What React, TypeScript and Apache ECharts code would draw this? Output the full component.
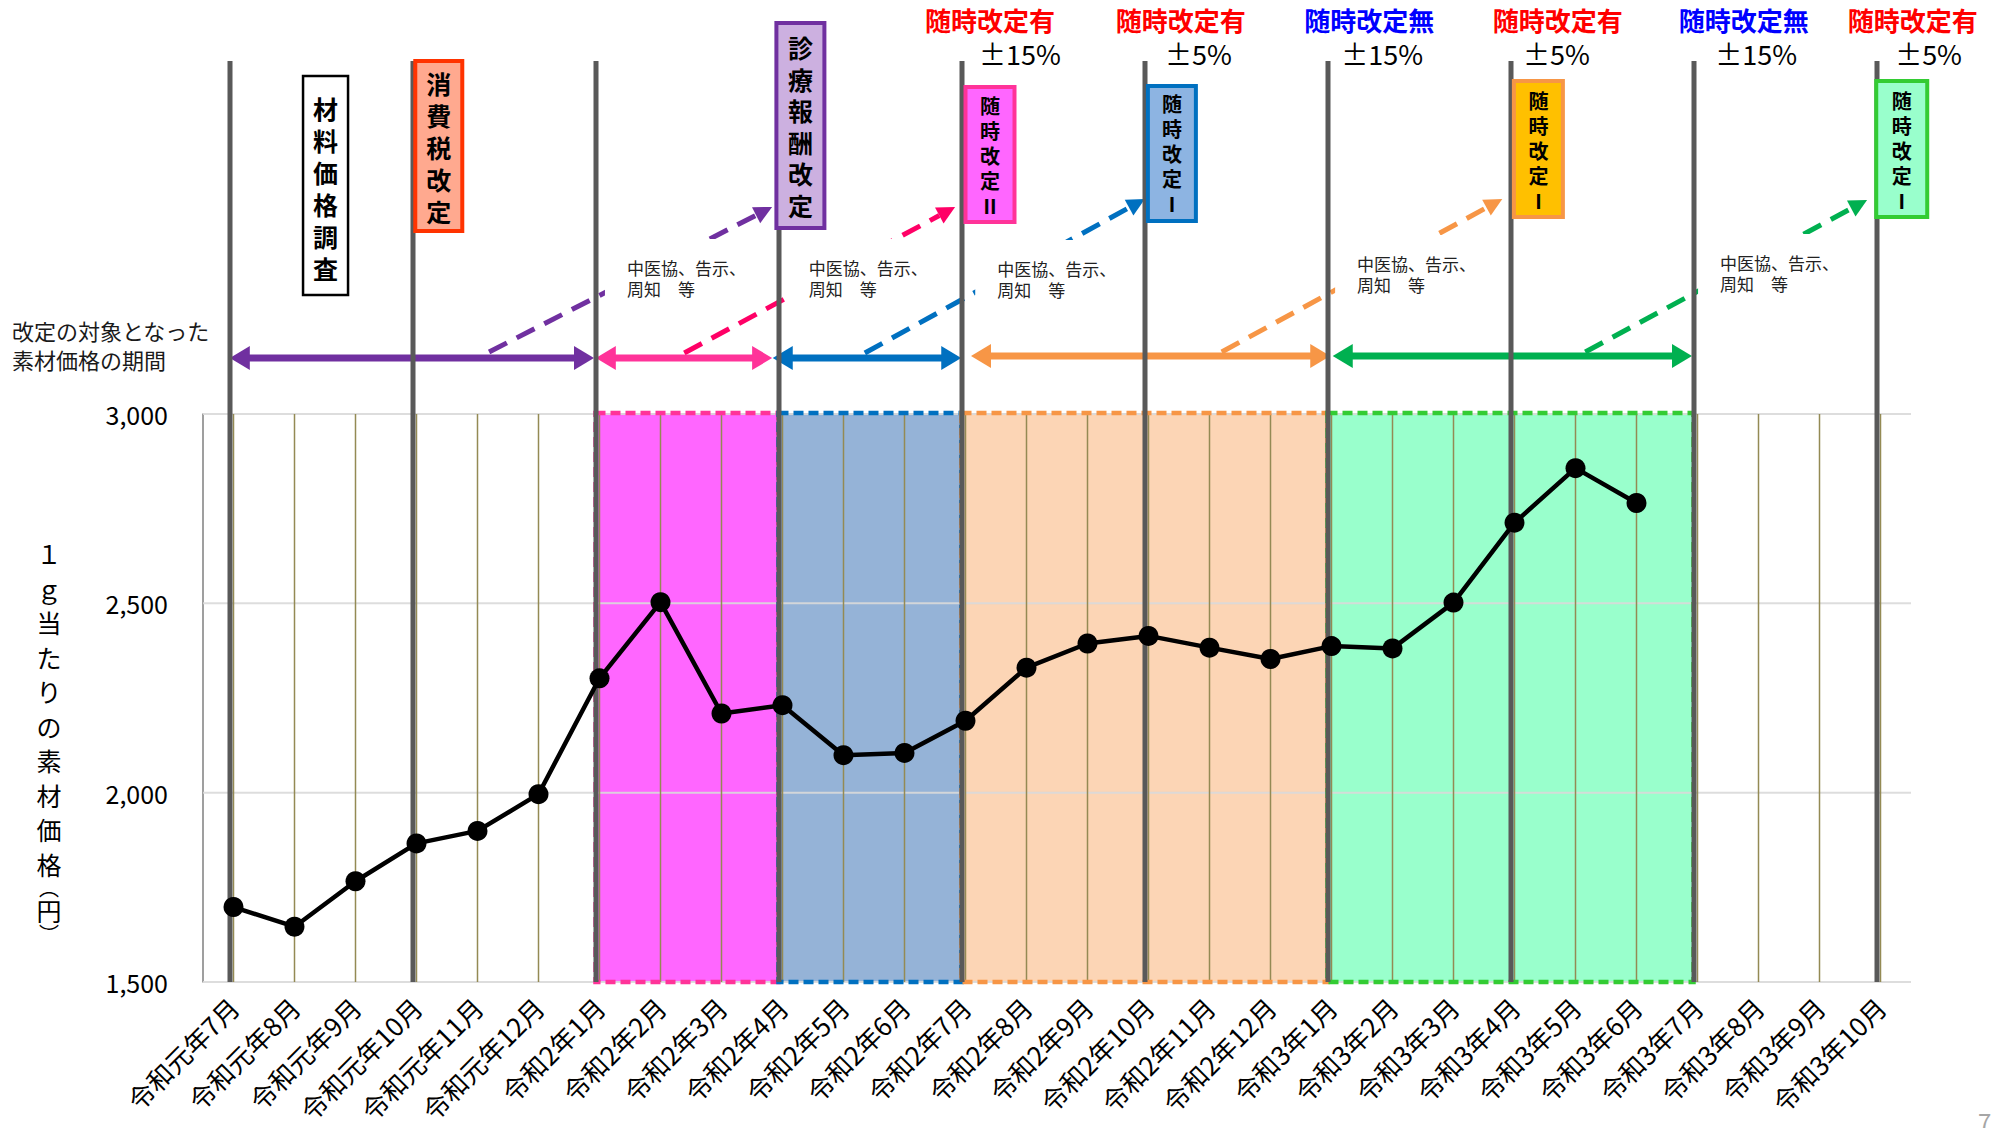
import React, { useEffect, useRef } from "react";
import * as echarts from "echarts";

const FONT = '"Noto Sans CJK JP", "Noto Sans", sans-serif';

// ---- data ----
const months = [
  "令和元年7月", "令和元年8月", "令和元年9月", "令和元年10月", "令和元年11月", "令和元年12月",
  "令和2年1月", "令和2年2月", "令和2年3月", "令和2年4月", "令和2年5月", "令和2年6月",
  "令和2年7月", "令和2年8月", "令和2年9月", "令和2年10月", "令和2年11月", "令和2年12月",
  "令和3年1月", "令和3年2月", "令和3年3月", "令和3年4月", "令和3年5月", "令和3年6月",
  "令和3年7月", "令和3年8月", "令和3年9月", "令和3年10月",
];
const prices: (number | null)[] = [
  1698, 1646, 1766, 1866, 1899, 1996,
  2302, 2503, 2209, 2231, 2099, 2105,
  2190, 2330, 2394, 2414, 2383, 2353,
  2387, 2381, 2502, 2713, 2857, 2765,
  null, null, null, null,
];
const yTicks = [1500, 2000, 2500, 3000];
const Y_MIN = 1500;
const Y_MAX = 3000;

// period boundaries (category indexes)
const boundaryCats = [0, 3, 6, 9, 12, 15, 18, 21, 24, 27];

// shaded periods
const shadedFrom = [6, 9, 12, 18];
const shadedTo = [9, 12, 18, 24];
const shadedFill = ["#FF66FF", "#95B3D7", "#FCD5B5", "#99FFCC"];
const shadedBorder = ["#FF3399", "#0070C0", "#F79646", "#33CC33"];

// arrows: periods targeted by each revision
const arrowFrom = [-0.06, 5.94, 8.84, 12.09, 18.02];
const arrowTo = [5.91, 8.83, 11.93, 17.98, 23.91];
const arrowColor = ["#7030A0", "#FF3399", "#0070C0", "#F79646", "#00B050"];
const arrowY = [358, 358, 358, 356, 356];

const dashColor = ["#7030A0", "#FF0066", "#0070C0", "#F79646", "#00B050"];
const dashStart = [4.19, 7.39, 10.35, 16.2, 22.16];
const dashStartY = [352, 353, 353, 352, 352];
const dashEnd = [8.83, 11.83, 14.94, 20.8, 26.78];
const dashEndY = [207, 207, 199, 199, 200];

const noticeText = "中医協、告示、\n周知　等";
const noticeX = [6.45, 9.43, 12.52, 18.42, 24.37];
const noticeY = [267, 267, 268, 263, 262];

const revisionCats = [12, 15, 18, 21, 24, 27];
const revisionLabels = ["随時改定有", "随時改定有", "随時改定無", "随時改定有", "随時改定無", "随時改定有"];
const revisionColors = ["#FF0000", "#FF0000", "#0000FF", "#FF0000", "#0000FF", "#FF0000"];
const revisionOffset = [0.4, 0.53, 0.62, 0.71, 0.76, 0.53];
const rangeLabels = ["±15%", "±5%", "±15%", "±5%", "±15%", "±5%"];
const rangeOffset = [0.22, 0.27, 0.16, 0.14, 0.29, 0.24];

const eventLabels = ["材料価格調査", "消費税改定", "診療報酬改定", "随時改定Ⅱ", "随時改定Ⅰ", "随時改定Ⅰ", "随時改定Ⅰ"];
const eventX = [1.14, 2.98, 8.9, 12.0, 14.99, 20.99, 26.93];
const eventW = [45, 47, 48, 49, 48, 49, 51];
const eventTop = [76, 61, 23, 87, 86, 81, 81];
const eventBottom = [295, 231, 228, 222, 221, 217, 217];
const eventFill = ["#FFFFFF", "#FFA98F", "#CCB0E0", "#FF66FF", "#8DB4E2", "#FFC000", "#99FFCC"];
const eventBorder = ["#000000", "#FF3300", "#7030A0", "#FF3399", "#0070C0", "#F79646", "#33CC33"];
const eventBorderW = [2.5, 4, 4, 4, 4, 4, 4];
const eventFirstY = [108, 83, 47, 105, 103, 100, 100];
const eventStep = [32, 32, 31.6, 25, 25, 25, 25];
const eventFontSize = [25, 25, 25, 20, 20, 20, 20];

const chartTitle = "歯科鋳造用金銀パラジウム合金の平均素材価格";
const periodNote = "改定の対象となった\n素材価格の期間";
const yTitleChars = ["１", "ｇ", "当", "た", "り", "の", "素", "材", "価", "格", "︵", "円", "︶"];
const yTitleSizes = [25, 25, 25, 25, 25, 25, 25, 25, 25, 25, 20, 25, 20];
const yTitleGaps = [0, 34.5, 34.5, 34.5, 34.5, 34.5, 34.5, 34.5, 34.5, 34.5, 23.5, 23, 23];

function dashedArrow(x1: number, y1: number, x2: number, y2: number, color: string) {
  const dx = x2 - x1, dy = y2 - y1;
  const L = Math.hypot(dx, dy);
  const ux = dx / L, uy = dy / L;
  const head = 18, hw = 9;
  const bx = x2 - ux * head, by = y2 - uy * head;
  return [
    { type: "line", shape: { x1, y1, x2: bx, y2: by }, style: { stroke: color, lineWidth: 5, lineDash: [20, 11] } },
    {
      type: "polygon",
      shape: { points: [[x2, y2], [bx - uy * hw, by + ux * hw], [bx + uy * hw, by - ux * hw]] },
      style: { fill: color },
    },
  ];
}

function doubleArrow(x1: number, x2: number, y: number, color: string) {
  const head = 20, hw = 12;
  return [
    { type: "line", shape: { x1: x1 + head - 2, y1: y, x2: x2 - head + 2, y2: y }, style: { stroke: color, lineWidth: 7 } },
    { type: "polygon", shape: { points: [[x1, y], [x1 + head, y - hw], [x1 + head, y + hw]] }, style: { fill: color } },
    { type: "polygon", shape: { points: [[x2, y], [x2 - head, y - hw], [x2 - head, y + hw]] }, style: { fill: color } },
  ];
}

function overlayRender(layer: number) {
  return (params: any, api: any) => {
    const X = (c: number) => api.coord([c, 0])[0];
    const Y = (p: number) => api.coord([0, p])[1];
    const kids: any[] = [];
    if (layer === 0) {
      dashStart.forEach((s, i) => {
        kids.push(...dashedArrow(X(s), Y(dashStartY[i]), X(dashEnd[i]), Y(dashEndY[i]), dashColor[i]));
      });
      noticeX.forEach((nx, i) => {
        const x = X(nx), y = Y(noticeY[i]);
        kids.push({ type: "rect", shape: { x: x - 22, y: y - 28, width: 150, height: 62 }, style: { fill: "#FFFFFF" } });
        kids.push({
          type: "text", x, y: y - 10.5,
          style: { text: noticeText, fontSize: 17, lineHeight: 21, fontFamily: FONT, fill: "#222222", align: "left", verticalAlign: "top" },
        });
      });
      arrowFrom.forEach((f, i) => {
        kids.push(...doubleArrow(X(f), X(arrowTo[i]), Y(arrowY[i]), arrowColor[i]));
      });
    } else if (layer === 1) {
      boundaryCats.forEach((c) => {
        const x = X(c) - 3.5;
        kids.push({ type: "line", shape: { x1: x, y1: Y(61), x2: x, y2: Y(982) }, style: { stroke: "#595959", lineWidth: 5 } });
      });
    } else {
      eventLabels.forEach((lab, i) => {
        const x = X(eventX[i]);
        kids.push({
          type: "rect",
          shape: { x, y: Y(eventTop[i]), width: eventW[i], height: Y(eventBottom[i]) - Y(eventTop[i]) },
          style: { fill: eventFill[i], stroke: eventBorder[i], lineWidth: eventBorderW[i] },
        });
        kids.push({
          type: "text", x: x + eventW[i] / 2, y: Y(eventFirstY[i]) - eventStep[i] / 2,
          style: {
            text: Array.from(lab).join("\n"), fontSize: eventFontSize[i], lineHeight: eventStep[i],
            fontWeight: "bold", fontFamily: FONT, fill: "#000000", align: "center", verticalAlign: "top",
          },
        });
      });
      revisionCats.forEach((c, i) => {
        kids.push({
          type: "text", x: X(c + revisionOffset[i]), y: Y(19),
          style: { text: revisionLabels[i], fontSize: 26, fontWeight: "bold", fontFamily: FONT, fill: revisionColors[i], align: "center", verticalAlign: "middle" },
        });
        kids.push({
          type: "text", x: X(c + rangeOffset[i]), y: Y(53),
          style: { text: rangeLabels[i], fontSize: 27, fontFamily: FONT, fill: "#000000", align: "left", verticalAlign: "middle" },
        });
      });
    }
    return { type: "group", children: kids };
  };
}

function mainRender(params: any, api: any) {
  const cs = params.coordSys;
  const kids: any[] = [];
  const top = api.coord([0, Y_MAX])[1];
  const bot = api.coord([0, Y_MIN])[1];
  shadedFrom.forEach((f, i) => {
    const x1 = api.coord([f, Y_MIN])[0] - 4;
    const x2 = api.coord([shadedTo[i], Y_MIN])[0] - 4;
    kids.push({ type: "rect", shape: { x: x1, y: top - 1, width: x2 - x1, height: bot - top + 1 }, style: { fill: shadedFill[i] } });
  });
  yTicks.forEach((v) => {
    const y = api.coord([0, v])[1];
    kids.push({ type: "line", shape: { x1: cs.x, y1: y, x2: cs.x + cs.width, y2: y }, style: { stroke: "rgba(217,217,217,0.9)", lineWidth: 2 } });
  });
  months.forEach((_, i) => {
    const x = api.coord([i, Y_MIN])[0];
    kids.push({ type: "line", shape: { x1: x, y1: top, x2: x, y2: bot }, style: { stroke: "#948A54", lineWidth: 1.5 } });
  });
  shadedFrom.forEach((f, i) => {
    const x1 = api.coord([f, Y_MIN])[0] - 4;
    const x2 = api.coord([shadedTo[i], Y_MIN])[0] - 4;
    kids.push({
      type: "rect", shape: { x: x1, y: top - 1, width: x2 - x1, height: bot - top + 1 },
      style: { fill: "none", stroke: shadedBorder[i], lineWidth: 4.5, lineDash: [10, 5] },
    });
  });
  return { type: "group", children: kids };
}

// vertical y-axis title, one character per text element
const yTitleElements: any[] = [];
{
  let cy = 553;
  yTitleChars.forEach((ch, i) => {
    cy += yTitleGaps[i];
    yTitleElements.push({
      type: "text", x: 49, y: cy,
      style: { text: ch, fontSize: yTitleSizes[i], fontFamily: FONT, fill: "#000000", align: "center", verticalAlign: "middle" },
    });
  });
}

const option: any = {
  animation: false,
  backgroundColor: "#FFFFFF",
  textStyle: { fontFamily: FONT },
  grid: [
    { left: 203, right: 82, top: 414, bottom: 146, containLabel: false, outerBoundsMode: "none" },
    { left: 203, right: 82, top: 0, bottom: 146, containLabel: false, outerBoundsMode: "none" },
  ],
  xAxis: [
    {
      type: "category", gridIndex: 0, data: months, boundaryGap: true,
      axisLine: { show: false }, axisTick: { show: false }, splitLine: { show: false },
      axisLabel: { interval: 0, rotate: 45, fontSize: 26, color: "#000000", margin: 20, fontFamily: FONT },
    },
    { type: "value", gridIndex: 1, min: -0.5, max: 27.5, show: false },
  ],
  yAxis: [
    {
      type: "value", gridIndex: 0, min: Y_MIN, max: Y_MAX, interval: 500,
      axisLine: { show: true, lineStyle: { color: "#7F7F7F", width: 1.5 } },
      axisTick: { show: false }, splitLine: { show: false },
      axisLabel: { fontSize: 25, color: "#000000", margin: 35, fontFamily: FONT, formatter: (v: number) => v.toLocaleString("en-US") },
    },
    { type: "value", gridIndex: 1, min: 0, max: 982, inverse: true, show: false },
  ],
  graphic: [
    {
      type: "text", x: 12, y: 315,
      style: { text: periodNote, fontSize: 22, lineHeight: 29, fill: "#1A1A1A", fontFamily: FONT, align: "left", verticalAlign: "top" },
    },
    { type: "group", x: 0, y: 0, children: yTitleElements },
    {
      type: "group", x: 808, y: 847, z: 100,
      children: [
        { type: "rect", shape: { x: 0, y: 0, width: 590, height: 51 }, style: { fill: "#FFFFFF", stroke: "#000000", lineWidth: 2 } },
        {
          type: "text", x: 295, y: 26,
          style: { text: chartTitle, fontSize: 25, fontWeight: "bold", fontFamily: FONT, fill: "#000000", align: "center", verticalAlign: "middle" },
        },
      ],
    },
    { type: "text", x: 1978, y: 1108, style: { text: "7", fontSize: 24, fill: "#A6A6A6", fontFamily: FONT } },
  ],
  series: [
    {
      type: "custom", xAxisIndex: 0, yAxisIndex: 0, z: 1, silent: true,
      data: [[0, Y_MIN]], renderItem: mainRender,
    },
    {
      type: "custom", xAxisIndex: 1, yAxisIndex: 1, z: 2, silent: true,
      data: [[0, 0]], renderItem: overlayRender(0),
    },
    {
      type: "custom", xAxisIndex: 1, yAxisIndex: 1, z: 3, silent: true,
      data: [[0, 0]], renderItem: overlayRender(1),
    },
    {
      type: "custom", xAxisIndex: 1, yAxisIndex: 1, z: 4, silent: true,
      data: [[0, 0]], renderItem: overlayRender(2),
    },
    {
      type: "line", xAxisIndex: 0, yAxisIndex: 0, z: 10, data: prices,
      symbol: "circle", symbolSize: 20, silent: true,
      lineStyle: { color: "#000000", width: 4.5 },
      itemStyle: { color: "#000000" },
    },
  ],
};

export default function App() {
  const ref = useRef<HTMLDivElement>(null);
  useEffect(() => {
    const chart = echarts.init(ref.current!, null, { renderer: "svg" });
    chart.setOption(option);
    return () => chart.dispose();
  }, []);
  return (
    <div
      ref={ref}
      style={{ position: "absolute", left: 0, top: 0, width: 1993, height: 1128, background: "#FFFFFF" }}
    />
  );
}
